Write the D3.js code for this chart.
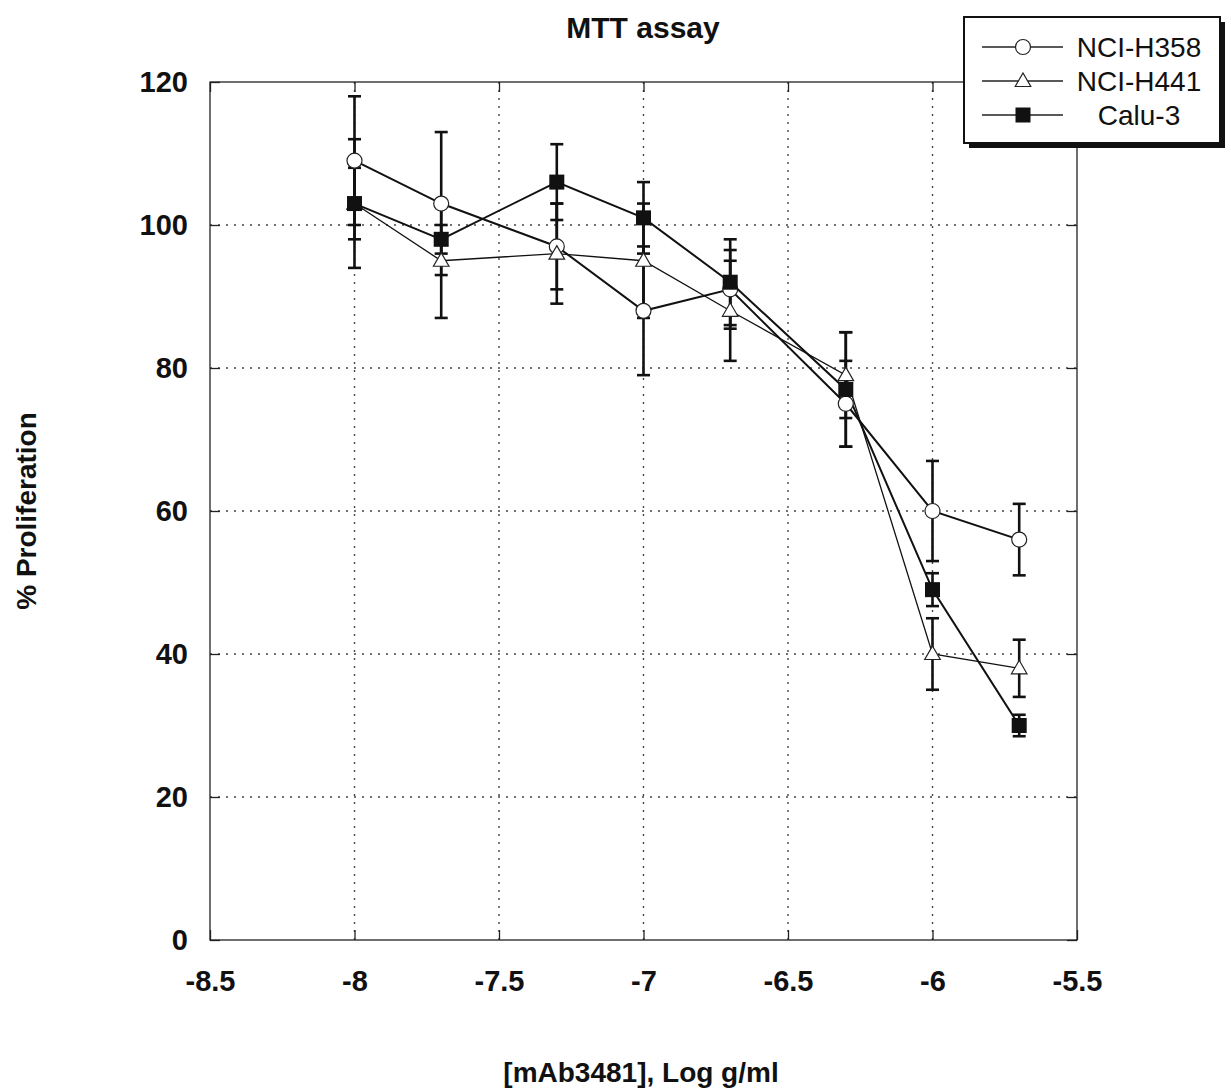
<!DOCTYPE html>
<html>
<head>
<meta charset="utf-8">
<script src="https://cdn.jsdelivr.net/npm/d3@7"></script>
<style>
  body { margin: 0; background: #fff; }
  text { font-family: "Liberation Sans", Arial, sans-serif; font-weight: bold; fill: #111; }
</style>
</head>
<body>
<script>
// data
var doses = [-8, -7.7, -7.3, -7, -6.7, -6.3, -6, -5.7];
var h358 = [109, 103, 97, 88, 91, 75, 60, 56];
var h358Err = [9, 10, 6, 9, 5.5, 6, 7, 5];
var h441 = [103, 95, 96, 95, 88, 79, 40, 38];
var h441Err = [5, 8, 7, 8, 7, 6, 5, 4];
var calu3 = [103, 98, 106, 101, 92, 77, 49, 30];
var calu3Err = [9, 2, 5.3, 5, 6, 8, 2.3, 1.5];
var xTicks = [-8.5, -8, -7.5, -7, -6.5, -6, -5.5];
var yTicks = [0, 20, 40, 60, 80, 100, 120];
var seriesNames = ["NCI-H358", "NCI-H441", "Calu-3"];

var W = 1231, H = 1092;
var margin = {top: 82, right: 154, bottom: 152, left: 210},
    width = W - margin.left - margin.right,
    height = H - margin.top - margin.bottom;

var x = d3.scaleLinear().domain([-8.5, -5.5]).range([0, width]);
var y = d3.scaleLinear().domain([0, 120]).range([height, 0]);

var svg = d3.select("body").append("svg")
    .attr("width", W)
    .attr("height", H);

var g = svg.append("g")
    .attr("transform", "translate(" + margin.left + "," + margin.top + ")");

// dotted grid
g.selectAll(".hgrid")
    .data(yTicks.filter(function(d) { return d > 0 && d < 120; }))
  .enter().append("line")
    .attr("x1", 0).attr("x2", width)
    .attr("y1", function(d) { return y(d); })
    .attr("y2", function(d) { return y(d); })
    .attr("stroke", "#444").attr("stroke-width", 1.4)
    .attr("stroke-dasharray", "2,6");

g.selectAll(".vgrid")
    .data(xTicks.filter(function(d) { return d > -8.5 && d < -5.5; }))
  .enter().append("line")
    .attr("y1", 0).attr("y2", height)
    .attr("x1", function(d) { return x(d); })
    .attr("x2", function(d) { return x(d); })
    .attr("stroke", "#444").attr("stroke-width", 1.4)
    .attr("stroke-dasharray", "2,6");

// frame
g.append("rect")
    .attr("width", width).attr("height", height)
    .attr("fill", "none").attr("stroke", "#222").attr("stroke-width", 1.3);

// axes with inward ticks
var fmt = function(d) { return String(d); };

var xAxis = g.append("g")
    .attr("transform", "translate(0," + height + ")")
    .call(d3.axisBottom(x).tickValues(xTicks).tickFormat(fmt)
      .tickSizeInner(-10).tickSizeOuter(0).tickPadding(30));

var yAxis = g.append("g")
    .call(d3.axisLeft(y).tickValues(yTicks).tickFormat(fmt)
      .tickSizeInner(-10).tickSizeOuter(0).tickPadding(22));

g.append("g")
    .call(d3.axisTop(x).tickValues(xTicks).tickFormat("")
      .tickSizeInner(-10).tickSizeOuter(0));

g.append("g")
    .attr("transform", "translate(" + width + ",0)")
    .call(d3.axisRight(y).tickValues(yTicks).tickFormat("")
      .tickSizeInner(-10).tickSizeOuter(0));

g.selectAll(".domain").remove();
g.selectAll(".tick line").attr("stroke", "#222").attr("stroke-width", 1.3);
xAxis.selectAll("text").style("font-size", "29px");
yAxis.selectAll("text").style("font-size", "29px");

// series
var series = [
  {name: seriesNames[0], vals: h358, err: h358Err, marker: "circle", lw: 2},
  {name: seriesNames[1], vals: h441, err: h441Err, marker: "triangle", lw: 1.3},
  {name: seriesNames[2], vals: calu3, err: calu3Err, marker: "square", lw: 2}
];

var line = d3.line()
    .x(function(d) { return x(d.x); })
    .y(function(d) { return y(d.y); });

series.forEach(function(s) {
  s.pts = doses.map(function(d, i) { return {x: d, y: s.vals[i], e: s.err[i]}; });
});

series.forEach(function(s) {
  g.append("path")
      .datum(s.pts)
      .attr("d", line)
      .attr("fill", "none")
      .attr("stroke", "#111")
      .attr("stroke-width", s.lw);
});

// error bars
var cap = 6.5;
series.forEach(function(s) {
  var eb = g.append("g").selectAll("g").data(s.pts).enter().append("g");
  eb.append("line")
      .attr("x1", function(d) { return x(d.x); })
      .attr("x2", function(d) { return x(d.x); })
      .attr("y1", function(d) { return y(d.y - d.e); })
      .attr("y2", function(d) { return y(d.y + d.e); })
      .attr("stroke", "#111").attr("stroke-width", 2.6);
  [-1, 1].forEach(function(sign) {
    eb.append("line")
        .attr("x1", function(d) { return x(d.x) - cap; })
        .attr("x2", function(d) { return x(d.x) + cap; })
        .attr("y1", function(d) { return y(d.y + sign * d.e); })
        .attr("y2", function(d) { return y(d.y + sign * d.e); })
        .attr("stroke", "#111").attr("stroke-width", 2.6);
  });
});

// markers
var triSym = d3.symbol().type(d3.symbolTriangle).size(105);

function drawMarker(sel, type) {
  if (type === "circle") {
    sel.append("circle").attr("r", 7.5)
        .attr("fill", "#fff").attr("stroke", "#222").attr("stroke-width", 1.2);
  } else if (type === "triangle") {
    sel.append("path").attr("d", triSym).attr("transform", "translate(0,1)")
        .attr("fill", "#fff").attr("stroke", "#222").attr("stroke-width", 1.2);
  } else {
    sel.append("rect").attr("x", -7.5).attr("y", -7.5).attr("width", 15).attr("height", 15)
        .attr("fill", "#111");
  }
}

series.forEach(function(s) {
  var m = g.append("g").selectAll("g").data(s.pts).enter().append("g")
      .attr("transform", function(d) { return "translate(" + x(d.x) + "," + y(d.y) + ")"; });
  drawMarker(m, s.marker);
});

// legend
var lg = svg.append("g").attr("transform", "translate(964,17)");
lg.append("rect").attr("x", 5).attr("y", 5).attr("width", 256).attr("height", 126).attr("fill", "#111");
lg.append("rect").attr("width", 256).attr("height", 126)
    .attr("fill", "#fff").attr("stroke", "#111").attr("stroke-width", 2);

series.forEach(function(s, i) {
  var row = lg.append("g").attr("transform", "translate(0," + (30 + i * 34) + ")");
  row.append("line").attr("x1", 18).attr("x2", 99).attr("y1", 0).attr("y2", 0)
      .attr("stroke", "#222").attr("stroke-width", 1.3);
  var mk = row.append("g").attr("transform", "translate(59,0)");
  drawMarker(mk, s.marker);
  row.append("text")
      .attr("x", 175).attr("y", 10)
      .attr("text-anchor", "middle")
      .style("font-size", "28px").style("font-weight", "normal")
      .text(s.name);
});

// titles
svg.append("text")
    .attr("x", 643).attr("y", 38)
    .attr("text-anchor", "middle")
    .style("font-size", "30px")
    .text("MTT assay");

svg.append("text")
    .attr("x", 641).attr("y", 1082)
    .attr("text-anchor", "middle")
    .style("font-size", "28px")
    .text("[mAb3481], Log g/ml");

svg.append("text")
    .attr("transform", "translate(36,511) rotate(-90)")
    .attr("text-anchor", "middle")
    .style("font-size", "28px")
    .text("% Proliferation");
</script>
</body>
</html>
